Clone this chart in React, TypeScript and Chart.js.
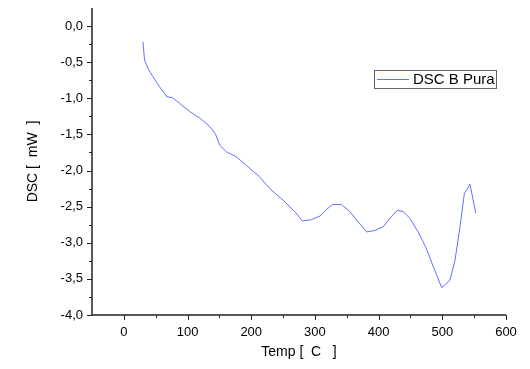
import React, { useEffect, useRef } from "react";
import { Chart, registerables } from "chart.js";

Chart.register(...registerables);

const temps = [30, 32.5, 38, 45.6, 56, 67.6, 76, 87.6, 103, 121.7, 134.7, 143.7, 150.5, 161, 176.7, 192.5, 213.4, 229, 250, 268.4, 280.5, 294.6, 307.7, 318, 327.6, 341.8, 354.9, 368, 381, 394, 407, 417.8, 429.8, 438.7, 449, 462, 474, 485.8, 499, 512, 520, 527.8, 534.6, 543.5, 552.5];
const dsc = [-0.22, -0.47, -0.59, -0.7, -0.84, -0.98, -0.99, -1.07, -1.18, -1.29, -1.39, -1.49, -1.65, -1.74, -1.81, -1.93, -2.09, -2.25, -2.41, -2.57, -2.7, -2.68, -2.63, -2.54, -2.47, -2.47, -2.57, -2.71, -2.85, -2.83, -2.78, -2.66, -2.55, -2.57, -2.66, -2.85, -3.06, -3.33, -3.62, -3.52, -3.24, -2.78, -2.32, -2.19, -2.59];
const seriesLabel = "DSC B Pura";
const xTitle = "Temp [  C   ]";
const yTitle = "DSC [  mW  ]";

const FONT = "'Liberation Sans', Arial, sans-serif";
const LINE_COLOR = "#6070ff";

const axesPlugin = {
  id: "originAxes",
  afterDraw(chart: any) {
    const { ctx, chartArea, scales } = chart;
    const xs = scales.x;
    const ys = scales.y;
    ctx.save();
    ctx.strokeStyle = "#222";
    ctx.lineWidth = 1.5;
    ctx.beginPath();
    ctx.moveTo(chartArea.left, chartArea.top);
    ctx.lineTo(chartArea.left, chartArea.bottom);
    ctx.lineTo(chartArea.right, chartArea.bottom);
    ctx.stroke();
    ctx.lineWidth = 1;
    ctx.beginPath();
    for (let v = -4; v <= 0.001; v += 0.25) {
      const y = Math.round(ys.getPixelForValue(v)) + 0.5;
      const major = Math.abs(v * 2 - Math.round(v * 2)) < 1e-6;
      ctx.moveTo(chartArea.left, y);
      ctx.lineTo(chartArea.left - (major ? 5 : 3), y);
    }
    for (let v = 0; v <= 600; v += 50) {
      const x = Math.round(xs.getPixelForValue(v)) + 0.5;
      const major = v % 100 === 0;
      ctx.moveTo(x, chartArea.bottom);
      ctx.lineTo(x, chartArea.bottom + (major ? 5 : 3));
    }
    ctx.stroke();

    // legend box
    const bx = 374.5, by = 70.5, bw = 122, bh = 18;
    ctx.strokeStyle = "#666";
    ctx.strokeRect(bx, by, bw, bh);
    ctx.strokeStyle = LINE_COLOR;
    ctx.beginPath();
    ctx.moveTo(377, 79.5);
    ctx.lineTo(409, 79.5);
    ctx.stroke();
    ctx.fillStyle = "#000";
    ctx.font = `15px ${FONT}`;
    ctx.textBaseline = "middle";
    ctx.textAlign = "left";
    ctx.fillText(chart.data.datasets[0].label, 413, 80);
    ctx.restore();
  },
};

export default function App() {
  const ref = useRef<HTMLCanvasElement>(null);
  useEffect(() => {
    if (!ref.current) return;
    const chart = new Chart(ref.current, {
      type: "line",
      data: {
        datasets: [
          {
            label: seriesLabel,
            data: temps.map((t, i) => ({ x: t, y: dsc[i] })),
            borderColor: LINE_COLOR,
            borderWidth: 1,
            pointRadius: 0,
            tension: 0,
            fill: false,
          },
        ],
      },
      options: {
        animation: false,
        responsive: false,
        layout: { padding: { top: 8, right: 24, left: 0, bottom: 0 } },
        plugins: { legend: { display: false }, tooltip: { enabled: false } },
        scales: {
          x: {
            type: "linear",
            min: -50,
            max: 600,
            grid: { display: false, drawTicks: false },
            border: { display: false },
            ticks: {
              stepSize: 50,
              padding: 10,
              color: "#000",
              font: { family: FONT, size: 13 },
              maxRotation: 0,
              autoSkip: false,
              callback: (v: any) => (Number(v) % 100 === 0 ? String(v) : ""),
            },
            title: {
              display: true,
              text: xTitle,
              color: "#000",
              font: { family: FONT, size: 14 },
              padding: { top: 0, bottom: 8 },
            },
            afterFit: (s: any) => {
              s.height = 54;
              s.paddingLeft = 0;
              s.paddingRight = 0;
            },
          },
          y: {
            type: "linear",
            min: -4,
            max: 0.25,
            grid: { display: false, drawTicks: false },
            border: { display: false },
            ticks: {
              stepSize: 0.25,
              padding: 9,
              color: "#000",
              font: { family: FONT, size: 13 },
              autoSkip: false,
              callback: (v: any) => {
                const n = Number(v);
                if (Math.abs(n * 2 - Math.round(n * 2)) > 1e-6) return "";
                if (n > 0.01) return "";
                const s = (Math.abs(n) < 1e-9 ? 0 : n).toFixed(1).replace(".", ",");
                return s;
              },
            },
            title: {
              display: true,
              text: yTitle,
              color: "#000",
              font: { family: FONT, size: 14 },
              padding: { top: 25, bottom: 0 },
            },
            afterFit: (s: any) => {
              s.width = 92;
              s.paddingTop = 0;
              s.paddingBottom = 0;
            },
          },
        },
      },
      plugins: [axesPlugin],
    });
    return () => chart.destroy();
  }, []);
  return (
    <div style={{ position: "fixed", left: 0, top: 0, width: 530, height: 369, background: "#fff" }}>
      <canvas ref={ref} width={530} height={369} style={{ width: 530, height: 369 }} />
    </div>
  );
}
